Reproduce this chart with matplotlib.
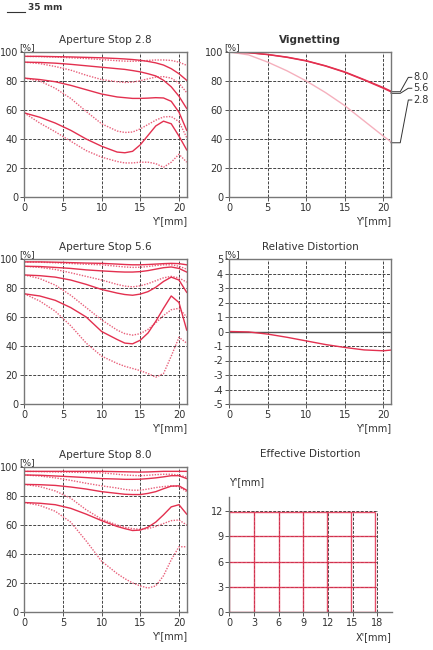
import matplotlib
matplotlib.use("Agg")
import matplotlib.pyplot as plt

# ---------------- data ----------------

# MTF curves, Y' in mm
mtf_x = [0, 2, 4, 6, 8, 10, 12, 13, 14, 15, 16, 17, 18, 19, 20, 21]

# Aperture 2.8 : solid (s) and dotted (d) for four frequencies
f28_s1 = [97, 97, 96.8, 96.6, 96.3, 96, 95.5, 95.2, 94.8, 94.3, 93.5, 92.5, 91, 88.5, 85, 80.5]
f28_d1 = [97, 96.8, 96.5, 96, 95.5, 94.8, 94, 93.7, 93.6, 93.8, 94.2, 94.5, 94.5, 94.2, 93, 90.8]
f28_s2 = [93, 92.8, 92.3, 91.5, 90.5, 89.5, 88.5, 88, 87.2, 86.3, 85, 83.5, 80.5, 76, 69.5, 61]
f28_d2 = [93, 92, 90, 87.5, 84, 81, 79.5, 79, 79.2, 80.2, 81.5, 82.7, 83, 82, 78.5, 72]
f28_s3 = [82, 81, 79.5, 77, 74, 71, 69, 68.5, 68, 68, 68.2, 68.5, 68.3, 66, 58.5, 46]
f28_d3 = [82, 80, 75, 68, 59, 50.5, 45.5, 44.5, 44.8, 47, 50, 53, 55.2, 55.5, 52, 41]
f28_s4 = [58, 55, 51, 46, 40, 35, 31, 30.5, 31.5, 36, 42.5, 49, 52.3, 50.5, 42, 32.5]
f28_d4 = [58, 51, 45, 38.5, 32, 27.5, 24.5, 23.5, 23.5, 24, 24, 23, 20.5, 24, 29.5, 24]

# Aperture 5.6
f56_s1 = [98, 98, 97.8, 97.5, 97.2, 97, 96.5, 96.2, 96, 96, 96.2, 96.5, 96.8, 97, 96.8, 96]
f56_d1 = [98, 97.8, 97.4, 96.9, 96.4, 96, 95, 94.5, 94.2, 94.3, 94.8, 95.5, 96, 96, 95, 93]
f56_s2 = [95, 94.8, 94.2, 93.5, 92.5, 91.8, 91.2, 91, 91, 91.3, 92, 93, 94, 94.5, 93.5, 91]
f56_d2 = [95, 94.2, 92.8, 90.5, 88, 85.5, 82.5, 81.3, 80.8, 81.5, 83, 85, 87, 88, 87, 84]
f56_s3 = [89, 88.5, 87.5, 85.5, 82.5, 79, 76.5, 75.5, 75, 75.8, 77.5, 80.5, 84.5, 87.5, 85.5, 77]
f56_d3 = [89, 86.5, 82, 75, 66.5, 58, 51, 48.5, 47.5, 48.5, 51.5, 56, 61, 65, 66, 60]
f56_s4 = [76, 74.5, 71.5, 66.5, 60, 50, 44.5, 42, 41.5, 44, 49, 57, 66, 74.5, 70, 51]
f56_d4 = [76, 71, 64, 54, 42, 33, 28, 26, 24.5, 23, 21, 18.5, 21, 33, 46, 42]

# Aperture 8.0
f80_s1 = [97, 97, 97, 97, 97, 97, 96.8, 96.7, 96.6, 96.5, 96.6, 96.8, 97, 97, 97, 97]
f80_d1 = [97, 96.8, 96.6, 96.4, 96.2, 96, 95, 94.5, 94.2, 94, 94.3, 94.7, 95, 95, 94.5, 93]
f80_s2 = [94.5, 94.3, 93.8, 93.3, 92.7, 92, 91.7, 91.5, 91.5, 91.6, 92, 92.5, 93.2, 94, 94, 92]
f80_d2 = [94.5, 93.8, 92.5, 90.8, 88.8, 87, 85.5, 84.5, 84, 84, 84.8, 85.8, 86.5, 87, 86.5, 83]
f80_s3 = [88, 87.8, 87.3, 86.2, 84.8, 83, 81.8, 81.2, 81, 81, 81.8, 83, 85, 86.8, 87, 84]
f80_d3 = [88, 86.5, 83.5, 78.5, 70.5, 64, 60, 58.5, 57.5, 57, 57.5, 59, 61, 63, 63.5, 60]
f80_s4 = [75.5, 75, 74, 71.5, 67.5, 63, 59, 57.5, 56.2, 56.5, 58.5, 62, 67, 72.5, 74, 67.5]
f80_d4 = [75.5, 73.5, 69.5, 62, 49, 35, 26.5, 23, 20, 18, 16.5, 18, 25, 36, 45, 45]

# Vignetting [%]
vig_x = [0, 2.5, 5, 7.5, 10, 12.5, 15, 17.5, 20, 21]
vig_80 = [100, 99.6, 98.3, 96.5, 94, 90.5, 86.3, 81, 75.5, 73]
vig_56 = [100, 99.5, 98.2, 96.3, 93.8, 90.3, 86, 80.7, 75, 72.5]
vig_28 = [100, 98, 93, 87, 80, 72, 63, 52.5, 42, 38]
vig_labels = ["8.0", "5.6", "2.8"]

# Relative distortion [%]
dist_x = [0, 2.5, 5, 7.5, 10, 12.5, 15, 17.5, 20, 21]
dist_y = [0, -0.03, -0.18, -0.4, -0.65, -0.9, -1.1, -1.27, -1.33, -1.28]

# Effective distortion grid [mm]
grid_x = [0, 3, 6, 9, 12, 15, 18]
grid_y = [0, 3, 6, 9, 12]
red_x = [0, 3, 6, 9, 11.85, 14.85, 17.7]
red_y = [0, 3, 6, 9, 11.95]

# ---------------- style ----------------

RED = "#e3304f"
RED_DOT = "#e8607a"
PINK = "#f5b0bd"
GRID = "#444444"
TXT = "#333333"
W, H = 433, 650

plt.rcParams["font.family"] = "DejaVu Sans"
plt.rcParams["axes.unicode_minus"] = False

fig = plt.figure(figsize=(W / 100, H / 100), dpi=100)


def px_axes(l, t, r, b):
    return fig.add_axes([l / W, 1 - b / H, (r - l) / W, (b - t) / H])


def style(ax, xt, yt, frame=True):
    for s in ax.spines.values():
        s.set_color("#777777")
        s.set_linewidth(1.0)
    if not frame:
        ax.spines["top"].set_visible(False)
        ax.spines["right"].set_visible(False)
    ax.set_xticks(xt)
    ax.set_yticks(yt)
    ax.tick_params(labelsize=7, colors="#555555", labelcolor=TXT, length=3, width=0.7, pad=1.5)


def mtf_panel(ax, title, curves):
    ax.set_xlim(0, 21)
    ax.set_ylim(0, 100)
    style(ax, [0, 5, 10, 15, 20], [0, 20, 40, 60, 80, 100])
    ax.grid(True, color=GRID, linestyle=(0, (3, 1.5)), linewidth=0.7)
    for solid, dotted in curves:
        ax.plot(mtf_x, dotted, color=RED_DOT, linestyle=(0, (1, 1)), linewidth=1.0)
        ax.plot(mtf_x, solid, color=RED, linewidth=1.0)
    ax.text(0.5, 1.085, title, transform=ax.transAxes, ha="center", va="center",
            fontsize=7.5, color=TXT)
    ax.text(-0.03, 1.0, "[%]", transform=ax.transAxes, ha="left", va="bottom",
            fontsize=6.5, color=TXT)
    ax.text(1.0, -0.165, "Y'[mm]", transform=ax.transAxes, ha="right", va="center",
            fontsize=7, color=TXT)


# legend at top
fig.add_artist(plt.Line2D([7 / W, 25 / W], [1 - 11.5 / H, 1 - 11.5 / H], color=TXT, linewidth=0.8))
fig.text(28 / W, 1 - 8 / H, "35 mm", ha="left", va="center", fontsize=6.5,
         fontweight="bold", color=TXT)

# MTF panels
ax1 = px_axes(24.3, 52, 186.7, 197)
mtf_panel(ax1, "Aperture Stop 2.8",
          [(f28_s1, f28_d1), (f28_s2, f28_d2), (f28_s3, f28_d3), (f28_s4, f28_d4)])
ax2 = px_axes(24.3, 259, 186.7, 404)
mtf_panel(ax2, "Aperture Stop 5.6",
          [(f56_s1, f56_d1), (f56_s2, f56_d2), (f56_s3, f56_d3), (f56_s4, f56_d4)])
ax3 = px_axes(24.3, 467, 186.7, 612)
mtf_panel(ax3, "Aperture Stop 8.0",
          [(f80_s1, f80_d1), (f80_s2, f80_d2), (f80_s3, f80_d3), (f80_s4, f80_d4)])

# Vignetting
axv = px_axes(229.3, 52, 391, 197)
axv.set_xlim(0, 21)
axv.set_ylim(0, 100)
style(axv, [0, 5, 10, 15, 20], [0, 20, 40, 60, 80, 100])
axv.grid(True, color=GRID, linestyle=(0, (3, 1.5)), linewidth=0.7)
axv.plot(vig_x, vig_28, color=PINK, linewidth=1.0)
axv.plot(vig_x, vig_56, color=RED, linewidth=1.0)
axv.plot(vig_x, vig_80, color=RED, linewidth=1.0)
axv.text(0.5, 1.085, "Vignetting", transform=axv.transAxes, ha="center", va="center",
         fontsize=7.5, fontweight="bold", color=TXT)
axv.text(-0.03, 1.0, "[%]", transform=axv.transAxes, ha="left", va="bottom",
         fontsize=6.5, color=TXT)
axv.text(1.0, -0.165, "Y'[mm]", transform=axv.transAxes, ha="right", va="center",
         fontsize=7, color=TXT)
# leader lines to the aperture labels
starts = [72.6, 71.5, 37.4]
ends = [82.5, 75.0, 66.9]
for lab, y0, y1 in zip(vig_labels, starts, ends):
    axv.plot([21, 22.2, 23.25, 23.7], [y0, y0, y1, y1], color=TXT, linewidth=0.7,
             clip_on=False)
    axv.text(23.85, y1, lab, ha="left", va="center", fontsize=7, color=TXT)

# Relative distortion
axd = px_axes(229.3, 259, 391, 404)
axd.set_xlim(0, 21)
axd.set_ylim(-5, 5)
style(axd, [0, 5, 10, 15, 20], list(range(-5, 6)))
axd.grid(True, color=GRID, linestyle=(0, (3, 1.5)), linewidth=0.7)
axd.axhline(0, color="#555555", linewidth=1.0)
axd.plot(dist_x, dist_y, color=RED, linewidth=1.0)
axd.text(0.5, 1.085, "Relative Distortion", transform=axd.transAxes, ha="center",
         va="center", fontsize=7.5, color=TXT)
axd.text(-0.03, 1.0, "[%]", transform=axd.transAxes, ha="left", va="bottom",
         fontsize=6.5, color=TXT)
axd.text(1.0, -0.165, "Y'[mm]", transform=axd.transAxes, ha="right", va="center",
         fontsize=7, color=TXT)

# Effective distortion
axe = px_axes(229.3, 497, 392, 612)
axe.set_xlim(0, 19.8)
axe.set_ylim(0, 13.7)
style(axe, grid_x, grid_y, frame=False)
axe.vlines(grid_x, grid_y[0], grid_y[-1], color=GRID, linestyle=(0, (3, 1.5)), linewidth=0.7)
axe.hlines(grid_y, grid_x[0], grid_x[-1], color=GRID, linestyle=(0, (3, 1.5)), linewidth=0.7)
axe.vlines(red_x, red_y[0], red_y[-1], color=RED, linewidth=1.0, alpha=0.85)
axe.hlines(red_y, red_x[0], red_x[-1], color=RED, linewidth=1.0, alpha=0.85)
axe.text(0.5, 1.0 + 43 / 115, "Effective Distortion", transform=axe.transAxes,
         ha="center", va="center", fontsize=7.5, color=TXT)
axe.text(0.0, 1.0 + 15 / 115, "Y'[mm]", transform=axe.transAxes, ha="left",
         va="center", fontsize=7, color=TXT)
axe.text(1.0, -25 / 115, "X'[mm]", transform=axe.transAxes, ha="right",
         va="center", fontsize=7, color=TXT)

fig.savefig("out.png", dpi=100)
